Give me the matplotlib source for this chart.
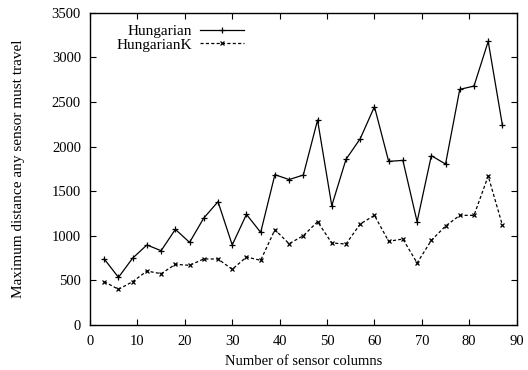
import matplotlib
matplotlib.use("Agg")
import matplotlib.pyplot as plt

plt.rcParams['font.family'] = ['Liberation Serif', 'DejaVu Serif']

columns = [3, 6, 9, 12, 15, 18, 21, 24, 27, 30, 33, 36, 39, 42, 45, 48, 51, 54, 57, 60,
           63, 66, 69, 72, 75, 78, 81, 84, 87]
hungarian = [740, 534, 750, 897, 833, 1072, 926, 1199, 1382, 897, 1240, 1038, 1685, 1630,
             1681, 2297, 1337, 1857, 2088, 2447, 1834, 1845, 1158, 1898, 1804, 2641, 2678,
             3179, 2238]
hungarian_k = [486, 400, 486, 605, 575, 680, 669, 740, 740, 624, 762, 725, 1068, 911,
               1001, 1158, 919, 908, 1132, 1229, 938, 964, 695, 949, 1109, 1229, 1229,
               1670, 1117]

fig = plt.figure(figsize=(5.28, 3.7), dpi=100)
ax = fig.add_axes([0.1705, 0.1216, 0.808, 0.844])

ax.plot(columns, hungarian, color='black', lw=0.9, marker='+', ms=4.5, mew=0.9,
        label='Hungarian')
ax.plot(columns, hungarian_k, color='black', lw=0.9, ls=(0, (2.5, 1.8)), marker='x',
        ms=3.5, mew=0.9, label='HungarianK')

ax.set_xlim(0, 90)
ax.set_ylim(0, 3500)
ax.set_xticks(range(0, 91, 10))
ax.set_yticks(range(0, 3501, 500))
ax.tick_params(direction='in', top=True, right=True, length=4, width=0.8,
               labelsize=10.5)
ax.tick_params(axis='x', pad=7)
ax.tick_params(axis='y', pad=6.5)
for s in ax.spines.values():
    s.set_linewidth(1.0)

ax.set_xlabel('Number of sensor columns', fontsize=10.5, labelpad=5)
ax.set_ylabel('Maximum distance any sensor must travel', fontsize=11, labelpad=19)

ax.legend(loc='upper left', bbox_to_anchor=(0.035, 1.0), frameon=False, markerfirst=False,
          fontsize=11, handlelength=2.9, handletextpad=0.5, labelspacing=0.0,
          borderaxespad=0.35)

fig.savefig('out.png', dpi=100)
